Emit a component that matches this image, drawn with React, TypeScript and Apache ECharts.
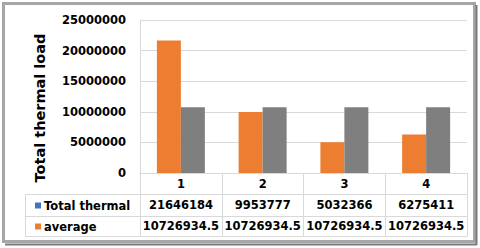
import React, { useEffect, useRef } from "react";
import * as echarts from "echarts";

const categories = ["1", "2", "3", "4"];
const totalThermal = [21646184, 9953777, 5032366, 6275411];
const averageValues = [10726934.5, 10726934.5, 10726934.5, 10726934.5];
const seriesNames = ["Total thermal", "average"];
const barColors = ["#ED7D31", "#7F7F7F"];
const legendColors = ["#4472C4", "#ED7D31"];
const yTitle = "Total thermal load";
const yMax = 25000000;
const yInterval = 5000000;

const FONT = "DejaVu Sans";
const GRID_LEFT = 140;
const GRID_RIGHT = 467;
const AXIS_Y = 173;
const ROW1 = 194;
const ROW2 = 216;
const ROW3 = 236;
const LINE = "#d9d9d9";

export default function App() {
  const ref = useRef<HTMLDivElement>(null);
  useEffect(() => {
    if (!ref.current) return;
    const chart = echarts.init(ref.current, undefined, { renderer: "svg" });
    const labelStyle = {
      fontFamily: FONT,
      fontWeight: "bold" as const,
      fontSize: 11.5,
      color: "#000",
    };
    const rows = [totalThermal, averageValues];
    const rowTops = [ROW1, ROW2];
    const rowBottoms = [ROW2, ROW3];
    const graphics: any[] = [
      { type: "rect", shape: { x: 3.5, y: 3.5, width: 471, height: 238 }, style: { fill: "none", stroke: "#a6a6a6", lineWidth: 3 }, silent: true },
      { type: "line", shape: { x1: 5, y1: 244.5, x2: 477, y2: 244.5 }, style: { stroke: "#7a7a7a", lineWidth: 2 } },
      { type: "line", shape: { x1: 476.5, y1: 5, x2: 476.5, y2: 245 }, style: { stroke: "#7a7a7a", lineWidth: 2 } },
      {
        type: "text",
        x: 40,
        y: 108,
        rotation: Math.PI / 2,
        style: { text: yTitle, font: `bold 14.5px "${FONT}"`, fill: "#000", align: "center", verticalAlign: "middle" },
      },
      { type: "line", shape: { x1: 25, y1: ROW1 + 0.5, x2: GRID_LEFT, y2: ROW1 + 0.5 }, style: { stroke: LINE, lineWidth: 1 } },
      { type: "line", shape: { x1: 25, y1: ROW2 + 0.5, x2: GRID_LEFT, y2: ROW2 + 0.5 }, style: { stroke: LINE, lineWidth: 1 } },
      { type: "line", shape: { x1: 25, y1: ROW3 + 0.5, x2: GRID_LEFT, y2: ROW3 + 0.5 }, style: { stroke: LINE, lineWidth: 1 } },
      { type: "line", shape: { x1: 25.5, y1: ROW1, x2: 25.5, y2: ROW3 + 1 }, style: { stroke: LINE, lineWidth: 1 } },
    ];
    seriesNames.forEach((name, i) => {
      const cy = (rowTops[i] + rowBottoms[i]) / 2 + 0.5;
      graphics.push({ type: "rect", shape: { x: 35, y: cy - 3, width: 6, height: 6 }, style: { fill: legendColors[i] } });
      graphics.push({
        type: "text",
        x: 44,
        y: cy,
        style: { text: name, font: `bold 11.5px "${FONT}"`, fill: "#000", align: "left", verticalAlign: "middle" },
      });
    });

    const tableAxes = rows.map((vals, i) => ({
      type: "category" as const,
      position: "bottom" as const,
      gridIndex: 0,
      offset: rowTops[i] - AXIS_Y,
      data: vals.map((v) => String(v)),
      axisLine: { show: true, lineStyle: { color: LINE } },
      axisTick: { show: true, length: rowBottoms[i] - rowTops[i], lineStyle: { color: LINE } },
      axisLabel: { ...labelStyle, margin: (rowBottoms[i] - rowTops[i]) / 2, verticalAlign: "middle" as const, interval: 0 },
    }));

    chart.setOption({
      animation: false,
      grid: { left: GRID_LEFT, right: 480 - GRID_RIGHT, top: 20, bottom: 248 - AXIS_Y, containLabel: false },
      xAxis: [
        {
          type: "category",
          data: categories,
          position: "bottom",
          axisLine: { show: true, lineStyle: { color: LINE } },
          axisTick: { show: true, length: ROW1 - AXIS_Y, lineStyle: { color: LINE } },
          axisLabel: { ...labelStyle, margin: (ROW1 - AXIS_Y) / 2, verticalAlign: "middle", interval: 0 },
        },
        ...tableAxes,
        {
          type: "category",
          position: "bottom",
          offset: ROW3 - AXIS_Y,
          data: categories,
          axisLine: { show: true, lineStyle: { color: LINE } },
          axisTick: { show: false },
          axisLabel: { show: false },
        },
      ],
      yAxis: {
        type: "value",
        min: 0,
        max: yMax,
        interval: yInterval,
        axisLine: { show: true, lineStyle: { color: LINE } },
        axisTick: { show: false },
        splitLine: { lineStyle: { color: LINE } },
        axisLabel: { ...labelStyle, margin: 14, formatter: (v: number) => String(v) },
      },
      series: [
        { name: seriesNames[0], type: "bar", data: totalThermal, barWidth: 24, barGap: "0%", itemStyle: { color: barColors[0] } },
        { name: seriesNames[1], type: "bar", data: averageValues, barWidth: 24, barGap: "0%", itemStyle: { color: barColors[1] } },
      ],
      graphic: graphics,
    });
    return () => chart.dispose();
  }, []);
  return (
    <div
      ref={ref}
      style={{ position: "fixed", left: 0, top: 0, width: 480, height: 248, background: "#fff" }}
    />
  );
}
